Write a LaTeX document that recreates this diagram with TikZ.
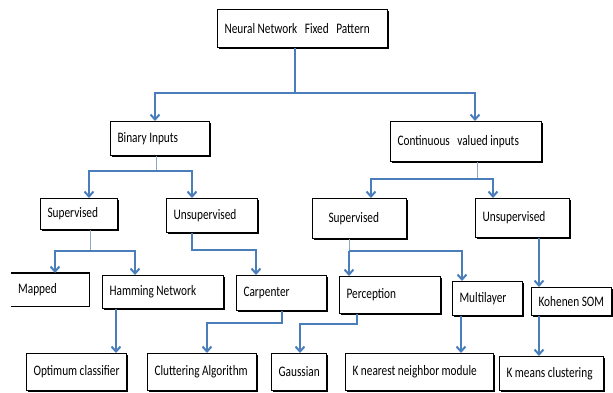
\documentclass[tikz,border=0pt]{standalone}
\usepackage{fontspec}
\setmainfont{Carlito}[FakeStretch=0.78]
\usetikzlibrary{arrows.meta,calc,shadows}
\definecolor{lineblue}{RGB}{74,126,187}
\definecolor{stemblue}{RGB}{140,165,200}
\newcommand\gap{\hspace{2.5pt}}
\tikzset{
  boxbase/.style={anchor=north west, inner xsep=7pt, inner ysep=0pt, align=left,
    font=\fontsize{14.5}{16}\selectfont},
  box/.style={boxbase, draw=black, line width=1.1pt, fill=white,
    drop shadow={shadow xshift=1.4pt, shadow yshift=-1.6pt, opacity=1, fill=black}},
  conn/.style={draw=lineblue, line width=2pt},
  arr/.style={conn, -{Straight Barb[length=5pt,width=9pt]}},
  stemline/.style={draw=stemblue, line width=1pt},
}
\newcommand\bx[7][box]{\node[#1, minimum width=#5pt, minimum height=#6pt, text width=#5pt-14pt] (#2) at (#3,#4) {\mbox{#7}};}
\begin{document}
\begin{tikzpicture}[x=1pt,y=-1pt]
\useasboundingbox (0,0) rectangle (613,392);
% boxes
\bx{top}{217}{9}{170}{38}{Neural\gap Network\gap\gap\gap Fixed\gap\gap\gap Pattern}
\bx{bin}{110}{121}{99}{34}{Binary\gap Inputs}
\bx{cont}{390}{121}{151}{40}{Continuous\gap\gap\gap valued\gap inputs}
\bx{supL}{40}{198}{77}{31}{Supervised}
\bx{unsL}{166}{198}{91}{34}{Unsupervised}
\bx{supR}{312}{198}{94}{40}{\hspace*{9pt}Supervised}
\bx{unsR}{475}{198}{94}{39}{Unsupervised}
\bx[boxbase]{map}{11}{273}{78}{33}{Mapped}
\draw[line width=1.1pt, black, xshift=1.4pt, yshift=-1.6pt] (map.north east) -- (map.south east) -- (map.south west);
\draw[line width=1.1pt, black] (map.north west) -- (map.north east) -- (map.south east) -- (map.south west);
\bx{ham}{102}{275}{121}{33}{Hamming\gap Network}
\bx{car}{236}{275}{90}{35}{Carpenter}
\bx{per}{339}{276}{101}{37}{Perception}
\bx{mul}{452}{281}{70}{34}{Multilayer}
\bx{koh}{531}{287}{80}{28}{Kohenen\gap SOM}
\bx{opt}{26}{353}{100}{37}{Optimum\gap classifier}
\bx{clu}{147}{353}{109}{37}{Cluttering\gap Algorithm}
\bx{gau}{271}{353}{55}{37}{Gaussian}
\bx{knn}{345}{353}{148}{37}{K\gap nearest\gap neighbor\gap module}
\bx{kme}{499}{356}{104}{34}{K\gap means\gap clustering}
% junctions
\coordinate (j1) at (295,93);
\coordinate (j2) at (156,171);
\coordinate (j3) at (477,179);
\coordinate (j4) at (90,251);
\coordinate (j5) at (349,251);
% connectors
\draw[conn] (top.south -| j1) -- (j1);
\draw[arr] (j1) -| ($(bin.north west)+(45,0)$);
\draw[arr] (j1) -| ($(cont.north west)+(85,0)$);
\draw[stemline] (bin.south -| j2) -- (j2);
\draw[arr] (j2) -| ($(supL.north west)+(49,0)$);
\draw[arr] (j2) -| ($(unsL.north west)+(26,0)$);
\draw[stemline] (cont.south -| j3) -- (j3);
\draw[arr] (j3) -| ($(supR.north west)+(59,0)$);
\draw[arr] (j3) -| ($(unsR.north west)+(18,0)$);
\draw[stemline] (supL.south -| j4) -- (j4);
\draw[arr] (j4) -| ($(map.north west)+(44,0)$);
\draw[arr] (j4) -| ($(ham.north west)+(33,0)$);
\draw[arr] ($(unsL.south west)+(26,0)$) -- ++(0,17) -| ($(car.north west)+(20,0)$);
\draw[stemline] (supR.south -| j5) -- (j5);
\draw[arr] (j5) -- ($(per.north west)+(10,0)$);
\draw[arr] (j5) -| ($(mul.north west)+(10,0)$);
\draw[arr] ($(unsR.south west)+(64,0)$) -- ($(koh.north west)+(8,0)$);
\draw[arr] ($(ham.south west)+(14,0)$) -- ($(opt.north west)+(90,0)$);
\draw[arr] ($(car.south west)+(46,0)$) -- ++(0,12) -| ($(clu.north west)+(60,0)$);
\draw[arr] ($(per.south west)+(18,0)$) -- ++(0,10) -| ($(gau.north west)+(29,0)$);
\draw[arr] ($(mul.south west)+(9,0)$) -- ($(knn.north west)+(116,0)$);
\draw[arr] ($(koh.south west)+(8,0)$) -- ($(kme.north west)+(40,0)$);
\end{tikzpicture}
\end{document}
